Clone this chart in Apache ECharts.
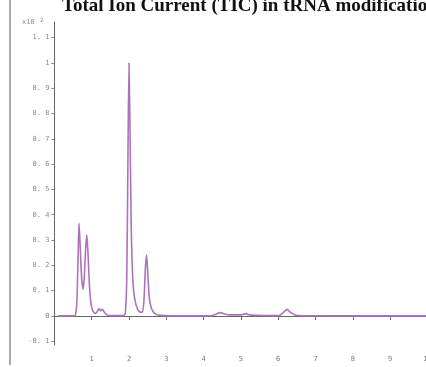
<!DOCTYPE html>
<html><head><meta charset="utf-8">
<script src="https://cdn.jsdelivr.net/npm/echarts@6/dist/echarts.min.js"></script>
<style>html,body{margin:0;padding:0;background:#fff}#c{width:426px;height:367px}</style>
</head><body><div id="c"></div>
<script>
var titleText = 'Total Ion Current (TIC) in tRNA modifications';
var yTicks = [-0.1, 0, 0.1, 0.2, 0.3, 0.4, 0.5, 0.6, 0.7, 0.8, 0.9, 1, 1.1];
var xTicks = [0, 1, 2, 3, 4, 5, 6, 7, 8, 9, 10];
var times = [0.10,0.50,0.56,0.60,0.63,0.66,0.69,0.73,0.77,0.80,0.84,0.87,0.90,0.94,0.98,1.03,1.10,1.16,1.20,1.24,1.29,1.34,1.40,1.50,1.85,1.90,1.94,1.97,2.00,2.03,2.06,2.10,2.15,2.22,2.30,2.36,2.40,2.44,2.47,2.50,2.54,2.60,2.70,2.85,3.50,4.20,4.35,4.44,4.55,4.70,5.00,5.14,5.20,5.40,5.90,6.05,6.15,6.24,6.32,6.45,6.60,10.0];
var intensity = [0,0,0.003,0.05,0.2,0.366,0.28,0.15,0.105,0.15,0.27,0.32,0.25,0.12,0.05,0.02,0.01,0.02,0.029,0.02,0.026,0.015,0.005,0.001,0.001,0.01,0.15,0.6,1.0,0.7,0.35,0.15,0.07,0.03,0.015,0.015,0.06,0.19,0.241,0.18,0.08,0.03,0.008,0.002,0,0,0.008,0.013,0.008,0.004,0.004,0.009,0.005,0.002,0.001,0.003,0.015,0.026,0.015,0.004,0.001,0];
var data = times.map(function(t,i){return [t,intensity[i]];});
var chart = echarts.init(document.getElementById('c'), null, {renderer:'canvas'});
chart.setOption({
  animation:false,
  backgroundColor:'#fff',
  title:{text:titleText,left:57,top:-8,textStyle:{fontFamily:'Liberation Serif',fontWeight:'bold',fontSize:19,color:'#111'}},
  grid:{left:54.4,width:373,top:22,bottom:22,containLabel:false,outerBoundsMode:'none'},
  xAxis:{type:'value',min:0,max:10,interval:1,offset:7,
    axisLine:{show:true,lineStyle:{color:'#666',width:1}},
    axisTick:{show:true,length:4,lineStyle:{color:'#666'}},
    axisLabel:{show:true,fontSize:7,color:'#777',margin:4,fontFamily:'DejaVu Sans Mono',
      customValues:xTicks.slice(1)},
    splitLine:{show:false}},
  yAxis:{type:'value',min:-0.115,max:1.162,offset:3,
    axisLine:{show:true,lineStyle:{color:'#666',width:1}},
    axisTick:{show:true,length:3,customValues:yTicks,lineStyle:{color:'#888'}},
    axisLabel:{fontSize:7,color:'#888',margin:2,fontFamily:'DejaVu Sans Mono',customValues:yTicks,
      formatter:function(v){var r=Math.round(v*10)/10; if(r===0)return '0'; if(r===1)return '1'; return r.toFixed(1).replace('.', '. ');}},
    splitLine:{show:false}},
  graphic:[
    {type:'line',shape:{x1:10,y1:0,x2:10,y2:365},style:{stroke:'#aaa',lineWidth:2}},
    {type:'text',left:22,top:19,style:{text:'x10',fontSize:7,fill:'#888',fontFamily:'DejaVu Sans Mono'}},
    {type:'text',left:40,top:17,style:{text:'2',fontSize:6,fill:'#888',fontFamily:'DejaVu Sans Mono'}}
  ],
  series:[{type:'line',data:data,smooth:0.25,showSymbol:false,clip:true,
    lineStyle:{color:'#ad73ba',width:1.6}}]
});
</script></body></html>
